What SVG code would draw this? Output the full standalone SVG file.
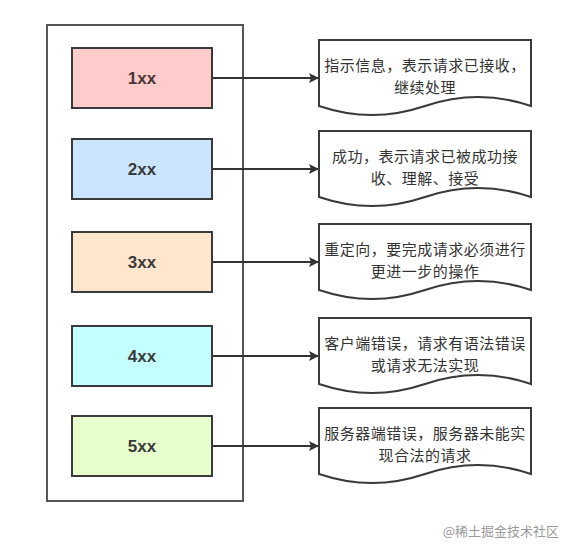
<svg xmlns="http://www.w3.org/2000/svg" width="575" height="552" viewBox="0 0 575 552">
<defs>
<marker id="arr" markerWidth="10" markerHeight="10" refX="9" refY="5" orient="auto" markerUnits="userSpaceOnUse">
<path d="M0,0 L10,5 L0,10 L2,5 Z" fill="#333"/>
</marker>
<style>
.box{stroke:#3a3a3a;stroke-width:2}
.lbl{font-family:"Liberation Sans","Noto Sans",sans-serif;font-weight:bold;font-size:17px;fill:#3a3a3a;text-anchor:middle;dominant-baseline:central}
.doc{fill:#fff;stroke:#3a3a3a;stroke-width:2}
.dt{font-family:"Noto Sans CJK SC","Noto Sans",sans-serif;font-size:15px;letter-spacing:0.5px;fill:#333;text-anchor:middle;dominant-baseline:central}
.con{stroke:#333;stroke-width:2;fill:none;marker-end:url(#arr)}
</style>
</defs>
<rect width="575" height="552" fill="#fff"/>
<g id="container"><rect x="47" y="25" width="196" height="476" fill="none" stroke="#555" stroke-width="2"/></g>

<g id="connectors">
<line class="con" x1="212" y1="78" x2="318" y2="78"/>
<line class="con" x1="212" y1="169" x2="318" y2="169"/>
<line class="con" x1="212" y1="262" x2="318" y2="262"/>
<line class="con" x1="212" y1="356" x2="318" y2="356"/>
<line class="con" x1="212" y1="446" x2="318" y2="446"/>
</g>

<g id="n1xx"><rect class="box" x="72" y="48" width="140" height="60" fill="#ffcccc"/><text class="lbl" x="142" y="78" style="fill:#4a3535">1xx</text></g>
<g id="n2xx"><rect class="box" x="72" y="139" width="140" height="60" fill="#cce5ff"/><text class="lbl" x="142" y="169">2xx</text></g>
<g id="n3xx"><rect class="box" x="72" y="232" width="140" height="60" fill="#ffe6cc"/><text class="lbl" x="142" y="262">3xx</text></g>
<g id="n4xx"><rect class="box" x="72" y="326" width="140" height="60" fill="#c4ffff" stroke="#111"/><text class="lbl" x="142" y="356">4xx</text></g>
<g id="n5xx"><rect class="box" x="72" y="416" width="140" height="60" fill="#e6ffcc"/><text class="lbl" x="142" y="446">5xx</text></g>

<g id="d1" transform="translate(0,40)">
<path class="doc" d="M319,0 H531 V66 Q478,48 425,66 Q372,84 319,66 Z"/>
<text class="dt" x="425" y="24">指示信息，表示请求已接收，</text>
<text class="dt" x="425" y="46">继续处理</text>
</g>
<g id="d2" transform="translate(0,131)">
<path class="doc" d="M319,0 H531 V66 Q478,48 425,66 Q372,84 319,66 Z"/>
<text class="dt" x="425" y="24">成功，表示请求已被成功接</text>
<text class="dt" x="425" y="46">收、理解、接受</text>
</g>
<g id="d3" transform="translate(0,224)">
<path class="doc" d="M319,0 H531 V66 Q478,48 425,66 Q372,84 319,66 Z"/>
<text class="dt" x="425" y="24">重定向，要完成请求必须进行</text>
<text class="dt" x="425" y="46">更进一步的操作</text>
</g>
<g id="d4" transform="translate(0,318)">
<path class="doc" d="M319,0 H531 V66 Q478,48 425,66 Q372,84 319,66 Z"/>
<text class="dt" x="425" y="24">客户端错误，请求有语法错误</text>
<text class="dt" x="425" y="46">或请求无法实现</text>
</g>
<g id="d5" transform="translate(0,408)">
<path class="doc" d="M319,0 H531 V66 Q478,48 425,66 Q372,84 319,66 Z"/>
<text class="dt" x="425" y="24">服务器端错误，服务器未能实</text>
<text class="dt" x="425" y="46">现合法的请求</text>
</g>

<text x="559" y="530" font-family="Noto Sans CJK SC,sans-serif" font-size="13" fill="#999" text-anchor="end" dominant-baseline="central">@稀土掘金技术社区</text>
</svg>
